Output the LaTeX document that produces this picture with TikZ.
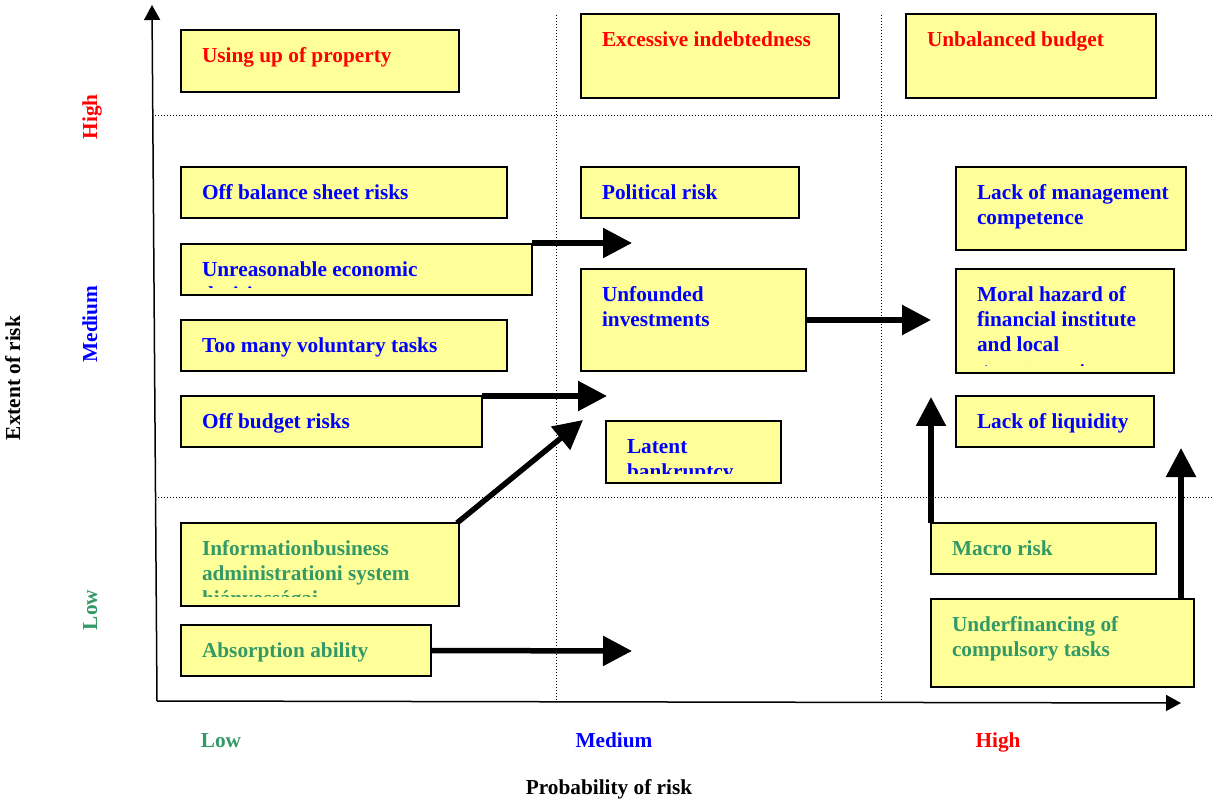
\documentclass[tikz,border=0pt]{standalone}
\usepackage{fontspec}
\setmainfont{Liberation Serif}
\usetikzlibrary{calc,arrows.meta}
\definecolor{boxyellow}{HTML}{FFFF99}
\definecolor{lowgreen}{HTML}{339966}
\definecolor{medblue}{HTML}{0000FF}
\definecolor{highred}{HTML}{FF0000}
\newcommand\rbox[7]{%
  \node[riskbox, minimum width=#4pt, minimum height=#5pt] (#1) at (#2,#3) {};
  \node[txt, text=#6] (#1-t) at ($(#1.north west)+(21,15.5)$) {\rule{0pt}{17pt}#7};
}
\newcommand\rboxclip[8]{%
  \node[riskbox, minimum width=#4pt, minimum height=#5pt] (#1) at (#2,#3) {};
  \begin{scope}
    \clip (#1.north west) rectangle ([yshift=#8pt]#1.south east);
    \node[txt, text=#6] (#1-t) at ($(#1.north west)+(21,15.5)$) {\rule{0pt}{17pt}#7};
  \end{scope}
}
\tikzset{
  riskbox/.style={draw=black, line width=1.5pt, fill=boxyellow, inner sep=0pt, outer sep=0pt, anchor=north west},
  txt/.style={anchor=north west, inner sep=0pt, outer sep=0pt, align=left, font=\bfseries\fontsize{21.3}{25}\selectfont},
  lbl/.style={inner sep=0pt, anchor=base, font=\bfseries\fontsize{21.3}{25}\selectfont},
  bigarrow/.style={line width=5.5pt, -{Triangle[length=29pt,width=29pt]}},
  axisline/.style={line width=1.5pt, -{Triangle[length=15pt,width=16pt]}},
  gridline/.style={dotted, line width=1pt}
}
\begin{document}
\begin{tikzpicture}[x=1pt,y=-1pt]
\useasboundingbox (0,0) rectangle (1213,799);
% grid
\coordinate (h1a) at (155,116); \coordinate (h1b) at (1213,116);
\coordinate (h2a) at (155,497); \coordinate (h2b) at (1213,497);
\coordinate (v1a) at (556,15); \coordinate (v1b) at (556,700);
\coordinate (v2a) at (881,15); \coordinate (v2b) at (881,700);
\draw[gridline] (h1a) -- (h1b);
\draw[gridline] (h2a) -- (h2b);
\draw[gridline] (v1a) -- (v1b);
\draw[gridline] (v2a) -- (v2b);
% axes
\coordinate (origin) at (157,701);
\coordinate (ytip) at (152,5);
\coordinate (xtip) at (1181,703);
\draw[axisline] (origin) -- (ytip);
\draw[axisline] (origin) -- (xtip);
% boxes
\rbox{prop}{181}{30}{278}{62}{highred}{Using up of property}
\rbox{indebt}{581}{14}{258}{84}{highred}{Excessive indebtedness}
\rbox{unbal}{906}{14}{250}{84}{highred}{Unbalanced budget}
\rbox{offbal}{181}{167}{326}{51}{medblue}{Off balance sheet risks}
\rbox{polit}{581}{167}{218}{51}{medblue}{Political risk}
\rbox{mgmt}{956}{167}{230}{83}{medblue}{Lack of management\\competence}
\rboxclip{unreas}{181}{244}{351}{51}{medblue}{Unreasonable economic\\decisions}{7}
\rbox{unfound}{581}{269}{225}{102}{medblue}{Unfounded\\investments}
\rboxclip{moral}{956}{269}{218}{104}{medblue}{Moral hazard of\\financial institute\\and local\\government}{7.5}
\rbox{volun}{181}{320}{326}{51}{medblue}{Too many voluntary tasks}
\rbox{offbud}{181}{396}{301}{51}{medblue}{Off budget risks}
\rboxclip{latent}{606}{421}{175}{62}{medblue}{Latent\\bankruptcy}{10}
\rbox{liquid}{956}{396}{198}{51}{medblue}{Lack of liquidity}
\rboxclip{info}{181}{523}{278}{83}{lowgreen}{Informationbusiness\\administrationi system\\hiányosságai}{10}
\rbox{macro}{931}{523}{225}{51}{lowgreen}{Macro risk}
\rbox{absorb}{181}{625}{250}{51}{lowgreen}{Absorption ability}
\rbox{under}{931}{599}{263}{88}{lowgreen}{Underfinancing of\\compulsory tasks}
% arrows
\coordinate (ta) at (632,243);
\coordinate (tb) at (931,320);
\coordinate (tc) at (607,396);
\coordinate (td) at (583,420);
\coordinate (te) at (632,651);
\coordinate (tf) at (931,397);
\coordinate (tg) at (1181,448);
\draw[bigarrow] ([yshift=1pt]unreas.north east) -- (ta);
\draw[bigarrow] (unfound.east) -- (tb);
\draw[bigarrow] (offbud.north east) -- (tc);
\draw[bigarrow] ([xshift=-2pt]info.north east) -- (td);
\draw[bigarrow] (absorb.east) -- (te);
\draw[bigarrow] (macro.north west) -- (tf);
\draw[bigarrow] ([xshift=-13pt]under.north east) -- (tg);
% axis labels
\node[lbl, text=lowgreen] (xlow) at (221,747) {Low};
\node[lbl, text=medblue] (xmed) at (614,747) {Medium};
\node[lbl, text=highred] (xhigh) at (998,747) {High};
\node[lbl] (xtitle) at (609,794) {Probability of risk};
\node[lbl, rotate=90, text=highred] (yhigh) at (97,117) {High};
\node[lbl, rotate=90, text=medblue] (ymed) at (97,324) {Medium};
\node[lbl, rotate=90, text=lowgreen] (ylow) at (97,610) {Low};
\node[lbl, rotate=90] (ytitle) at (20,378) {Extent of risk};
\end{tikzpicture}
\end{document}
